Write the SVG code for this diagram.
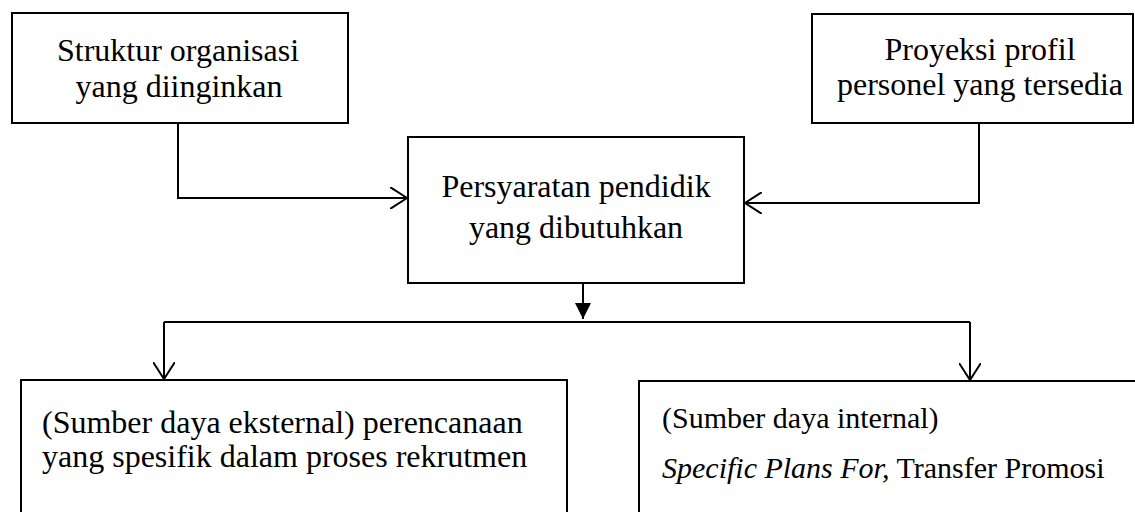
<svg xmlns="http://www.w3.org/2000/svg" width="1135" height="512" viewBox="0 0 1135 512">
<style>
.box{fill:#fff;stroke:#000;stroke-width:2}
.t{font-family:'Liberation Serif','Times New Roman',serif;font-size:32px;fill:#000}
.m{text-anchor:middle}
.s{font-size:30px}
.it{font-style:italic}
.c{fill:none;stroke:#000;stroke-width:2}
</style>
<defs>
<marker id="open" markerUnits="userSpaceOnUse" viewBox="0 0 18 22" refX="17" refY="11" markerWidth="18" markerHeight="22" orient="auto">
<path d="M0,0 L17,11 L0,22" fill="none" stroke="#000" stroke-width="2"/>
</marker>
<marker id="fill" markerUnits="userSpaceOnUse" viewBox="0 0 16 16" refX="16" refY="8" markerWidth="16" markerHeight="16" orient="auto">
<path d="M0,0 L16,8 L0,16 Z" fill="#000"/>
</marker>
</defs>
<rect width="1135" height="512" fill="#fff"/>
<g id="connectors">
<path class="c" d="M178,123 V198 H407" marker-end="url(#open)"/>
<path class="c" d="M979,123 V203 H745" marker-end="url(#open)"/>
<path class="c" d="M583,283 V319" marker-end="url(#fill)"/>
<path class="c" d="M164,322 H970"/>
<path class="c" d="M164,322 V379" marker-end="url(#open)"/>
<path class="c" d="M970,322 V380" marker-end="url(#open)"/>
</g>
<g id="node-struktur">
<rect class="box" x="12" y="13" width="336" height="110"/>
<text class="t m" x="178" y="61">Struktur organisasi</text>
<text class="t m" x="179" y="97">yang diinginkan</text>
</g>
<g id="node-proyeksi">
<rect class="box" x="812" y="14" width="321" height="109"/>
<text class="t m" x="980" y="60">Proyeksi profil</text>
<text class="t m" x="980" y="95">personel yang tersedia</text>
</g>
<g id="node-persyaratan">
<rect class="box" x="408" y="137" width="336" height="146"/>
<text class="t m" x="576" y="197">Persyaratan pendidik</text>
<text class="t m" x="576" y="238">yang dibutuhkan</text>
</g>
<g id="node-eksternal">
<rect class="box" x="21" y="380" width="546" height="150"/>
<text class="t" x="42" y="433">(Sumber daya eksternal) perencanaan</text>
<text class="t" x="42" y="467">yang spesifik dalam proses rekrutmen</text>
</g>
<g id="node-internal">
<rect class="box" x="639" y="381" width="510" height="150"/>
<text class="t s" x="662" y="428">(Sumber daya internal)</text>
<text class="t s" x="662" y="478"><tspan class="it">Specific Plans For,</tspan> Transfer Promosi</text>
</g>
</svg>
